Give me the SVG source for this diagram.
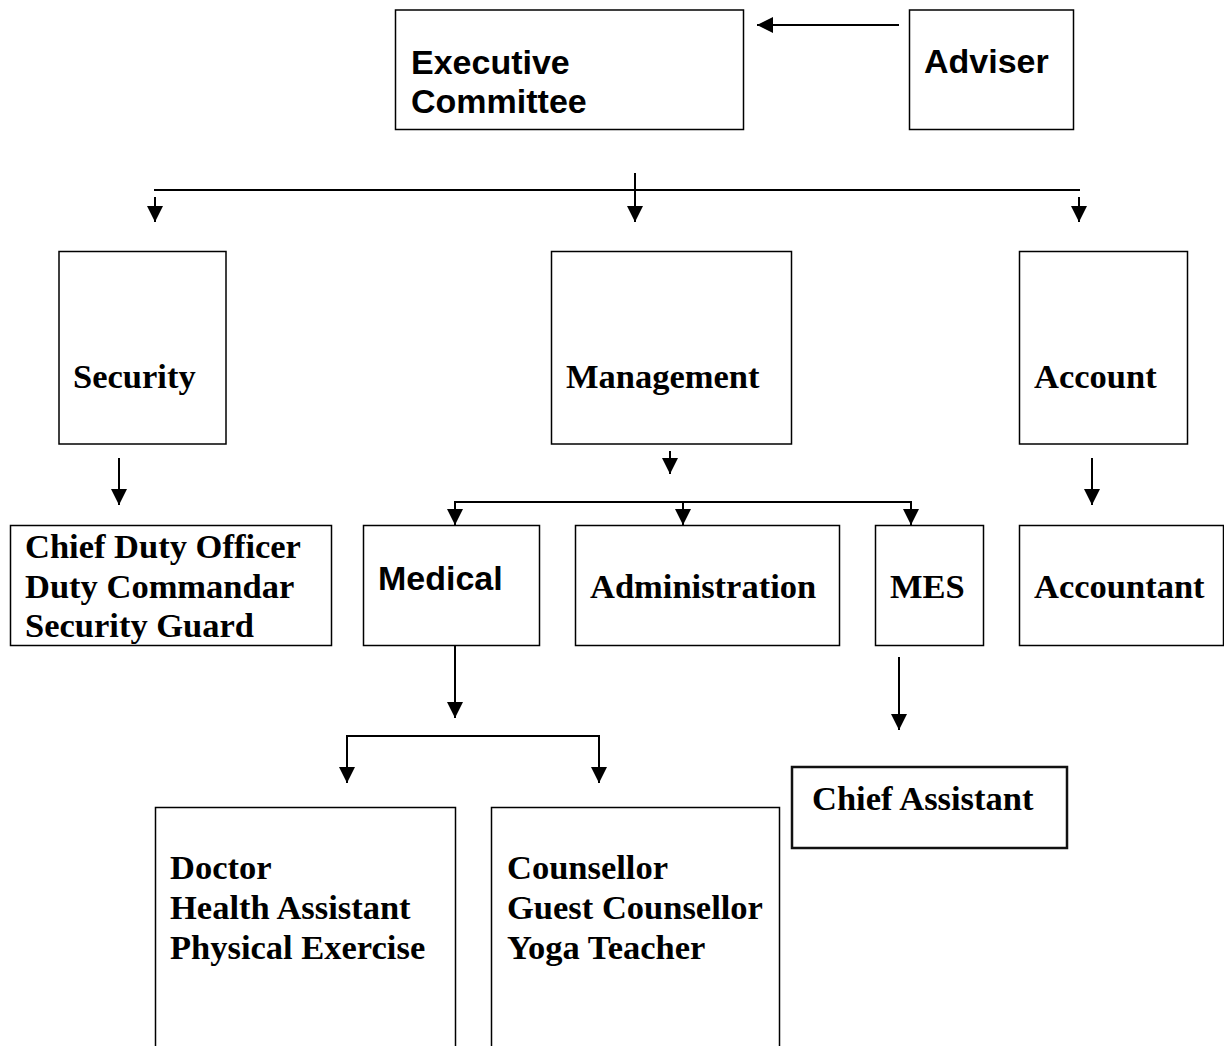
<svg xmlns="http://www.w3.org/2000/svg" width="1224" height="1046" viewBox="0 0 1224 1046">
  <style>
    .box { fill: #fff; stroke: #000; stroke-width: 1.5; }
    .box-thick { fill: #fff; stroke: #111; stroke-width: 2.5; }
    .serif { font-family: "Liberation Serif", "Times New Roman", serif; font-weight: bold; font-size: 34.5px; fill: #000; }
    .sans { font-family: "Liberation Sans", Arial, sans-serif; font-weight: bold; font-size: 34px; fill: #000; }
    .link { fill: none; stroke: #000; stroke-width: 2; }
    .arrow { fill: none; stroke: #000; stroke-width: 2; marker-end: url(#head); }
  </style>
  <defs>
    <marker id="head" viewBox="0 0 16 16" markerWidth="16" markerHeight="16" refX="16" refY="8" orient="auto" markerUnits="userSpaceOnUse">
      <path d="M0,0 L16,8 L0,16 z" fill="#000"/>
    </marker>
  </defs>
  <rect width="1224" height="1046" fill="#fff"/>

  <!-- connectors -->
  <g id="connectors">
    <line class="arrow" x1="899" y1="25" x2="757" y2="25"/>
    <line class="link" x1="154" y1="190" x2="1080" y2="190"/>
    <line class="arrow" x1="635" y1="173" x2="635" y2="222"/>
    <line class="arrow" x1="155" y1="197" x2="155" y2="222"/>
    <line class="arrow" x1="1079" y1="197" x2="1079" y2="222"/>

    <line class="arrow" x1="119" y1="458" x2="119" y2="505"/>
    <line class="arrow" x1="1092" y1="458" x2="1092" y2="505"/>

    <line class="arrow" x1="670" y1="451" x2="670" y2="474"/>
    <polyline class="link" points="455,510 455,502 911,502 911,510"/>
    <line class="arrow" x1="455" y1="502" x2="455" y2="525"/>
    <line class="arrow" x1="683" y1="502" x2="683" y2="525"/>
    <line class="arrow" x1="911" y1="502" x2="911" y2="525"/>

    <line class="arrow" x1="455" y1="645" x2="455" y2="718"/>
    <polyline class="link" points="347,745 347,736 599,736 599,745"/>
    <line class="arrow" x1="347" y1="736" x2="347" y2="783"/>
    <line class="arrow" x1="599" y1="736" x2="599" y2="783"/>

    <line class="arrow" x1="899" y1="657" x2="899" y2="730"/>
  </g>

  <!-- top level -->
  <g id="executive-committee">
    <rect class="box" x="395.5" y="10" width="348" height="119.5"/>
    <text class="sans" x="411" y="74">Executive</text>
    <text class="sans" x="411" y="113">Committee</text>
  </g>
  <g id="adviser">
    <rect class="box" x="909.5" y="10" width="164" height="119.5"/>
    <text class="sans" x="924" y="73">Adviser</text>
  </g>

  <!-- departments -->
  <g id="security">
    <rect class="box" x="59" y="251.5" width="167" height="192.5"/>
    <text class="serif" x="73" y="388">Security</text>
  </g>
  <g id="management">
    <rect class="box" x="551.5" y="251.5" width="240" height="192.5"/>
    <text class="serif" x="566" y="388">Management</text>
  </g>
  <g id="account">
    <rect class="box" x="1019.5" y="251.5" width="168" height="192.5"/>
    <text class="serif" x="1034" y="388">Account</text>
  </g>

  <!-- second level -->
  <g id="security-staff">
    <rect class="box" x="10.5" y="525.5" width="321" height="120"/>
    <text class="serif" x="25" y="558">Chief Duty Officer</text>
    <text class="serif" x="25" y="598">Duty Commandar</text>
    <text class="serif" x="25" y="637">Security Guard</text>
  </g>
  <g id="medical">
    <rect class="box" x="363.5" y="525.5" width="176" height="120"/>
    <text class="sans" x="378" y="590">Medical</text>
  </g>
  <g id="administration">
    <rect class="box" x="575.5" y="525.5" width="264" height="120"/>
    <text class="serif" x="590" y="598">Administration</text>
  </g>
  <g id="mes">
    <rect class="box" x="875.5" y="525.5" width="108" height="120"/>
    <text class="serif" x="890" y="598">MES</text>
  </g>
  <g id="accountant">
    <rect class="box" x="1019.5" y="525.5" width="204" height="120"/>
    <text class="serif" x="1034" y="598">Accountant</text>
  </g>

  <!-- third level -->
  <g id="medical-staff">
    <rect class="box" x="155.5" y="807.5" width="300" height="260"/>
    <text class="serif" x="170" y="879">Doctor</text>
    <text class="serif" x="170" y="919">Health Assistant</text>
    <text class="serif" x="170" y="959">Physical Exercise</text>
  </g>
  <g id="counselling-staff">
    <rect class="box" x="491.5" y="807.5" width="288" height="260"/>
    <text class="serif" x="507" y="879">Counsellor</text>
    <text class="serif" x="507" y="919">Guest Counsellor</text>
    <text class="serif" x="507" y="959">Yoga Teacher</text>
  </g>
  <g id="chief-assistant">
    <rect class="box-thick" x="792" y="767" width="275" height="81"/>
    <text class="serif" x="812" y="810">Chief Assistant</text>
  </g>
</svg>
